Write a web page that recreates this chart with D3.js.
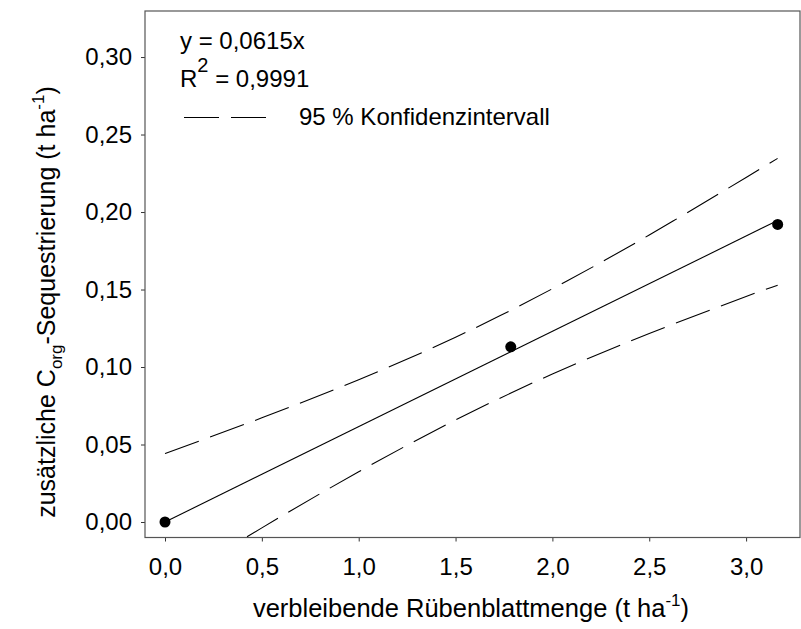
<!DOCTYPE html>
<html>
<head>
<meta charset="utf-8">
<script src="https://cdn.jsdelivr.net/npm/d3@7"></script>
<style>
  html, body { margin: 0; padding: 0; background: #fff; }
  svg { display: block; font-family: "Liberation Sans", Arial, sans-serif; }
</style>
</head>
<body>
<svg id="chart" width="801" height="629"></svg>
<script>
// Measured points: remaining beet leaf amount vs. additional C_org sequestration
const leafAmount = [0.0, 1.785, 3.163];
const sequestration = [0.0, 0.113, 0.192];

// Fitted line y = 0.0615x
const slope = 0.0615;
const fitX = [0.0, 3.163];

// 95 % confidence band, sampled along x
const bandX = [0.0, 0.5, 1.0, 1.5, 2.0, 2.5, 3.0, 3.163];
const bandUpper = [0.0442, 0.0672, 0.0918, 0.1192, 0.1505, 0.1852, 0.2223, 0.2346];
const bandLower = [-0.0418, -0.0038, 0.0324, 0.0658, 0.0955, 0.1216, 0.1455, 0.1528];

const xTicks = [0.0, 0.5, 1.0, 1.5, 2.0, 2.5, 3.0];
const yTicks = [0.00, 0.05, 0.10, 0.15, 0.20, 0.25, 0.30];

const svg = d3.select("#chart");
const plot = { left: 145, top: 11, right: 800, bottom: 537.5 };

const x = d3.scaleLinear().domain([-0.1033, 3.2783]).range([plot.left, plot.right]);
const y = d3.scaleLinear().domain([-0.0100, 0.3297]).range([plot.bottom, plot.top]);

const comma = (digits) => (v) => d3.format("." + digits + "f")(v).replace(".", ",");

svg.append("defs").append("clipPath").attr("id", "plot-clip")
  .append("rect")
  .attr("x", plot.left).attr("y", plot.top)
  .attr("width", plot.right - plot.left).attr("height", plot.bottom - plot.top);

// Axes
const xAxis = svg.append("g")
  .attr("transform", `translate(0,${plot.bottom})`)
  .call(d3.axisBottom(x).tickValues(xTicks).tickFormat(comma(1)).tickSize(4).tickPadding(16));
const yAxis = svg.append("g")
  .attr("transform", `translate(${plot.left},0)`)
  .call(d3.axisLeft(y).tickValues(yTicks).tickFormat(comma(2)).tickSize(4).tickPadding(9));

[xAxis, yAxis].forEach(g => {
  g.select(".domain").remove();
  g.selectAll(".tick line").attr("stroke", "#333");
  g.selectAll(".tick text").attr("fill", "#000").style("font-size", "24px")
    .style("font-family", "'Liberation Sans', Arial, sans-serif");
});

// Frame around the plot area
svg.append("rect")
  .attr("x", plot.left).attr("y", plot.top)
  .attr("width", plot.right - plot.left).attr("height", plot.bottom - plot.top)
  .attr("fill", "none").attr("stroke", "#555").attr("stroke-width", 1.2);

const content = svg.append("g").attr("clip-path", "url(#plot-clip)");

// Confidence band lines
const bandLine = d3.line().curve(d3.curveNatural).x(d => x(d[0])).y(d => y(d[1]));
[bandUpper, bandLower].forEach(vals => {
  content.append("path")
    .datum(bandX.map((v, i) => [v, vals[i]]))
    .attr("d", bandLine)
    .attr("fill", "none").attr("stroke", "#000").attr("stroke-width", 1.1)
    .attr("stroke-dasharray", "36,12");
});

// Regression line
content.append("path")
  .datum(fitX.map(v => [v, slope * v]))
  .attr("d", d3.line().x(d => x(d[0])).y(d => y(d[1])))
  .attr("fill", "none").attr("stroke", "#000").attr("stroke-width", 1.1);

// Data points
content.selectAll("circle.pt")
  .data(leafAmount.map((v, i) => [v, sequestration[i]]))
  .join("circle")
  .attr("class", "pt")
  .attr("cx", d => x(d[0])).attr("cy", d => y(d[1]))
  .attr("r", 5.5).attr("fill", "#000");

// Legend
const legend = svg.append("g").style("font-size", "24px").attr("fill", "#000");
legend.append("text").attr("x", 180).attr("y", 49).text("y = 0,0615x");
const r2 = legend.append("text").attr("x", 180).attr("y", 87);
r2.append("tspan").text("R");
r2.append("tspan").attr("dy", -15).style("font-size", "20px").text("2");
r2.append("tspan").attr("dy", 15).text(" = 0,9991");
legend.append("line")
  .attr("x1", 184).attr("x2", 266).attr("y1", 117.5).attr("y2", 117.5)
  .attr("stroke", "#000").attr("stroke-width", 1.1).attr("stroke-dasharray", "35,12");
legend.append("text").attr("x", 299).attr("y", 125).text("95 % Konfidenzintervall");

// Axis titles
const xTitle = svg.append("text")
  .attr("x", 471).attr("y", 617).attr("text-anchor", "middle")
  .style("font-size", "25.5px").attr("fill", "#000");
xTitle.append("tspan").text("verbleibende Rübenblattmenge (t ha");
xTitle.append("tspan").attr("dy", -11).style("font-size", "17px").text("-1");
xTitle.append("tspan").attr("dy", 11).text(")");

const yTitle = svg.append("text")
  .attr("transform", "translate(55,302) rotate(-90)")
  .attr("text-anchor", "middle")
  .style("font-size", "25px").attr("fill", "#000");
yTitle.append("tspan").text("zusätzliche C");
yTitle.append("tspan").attr("dy", 7).style("font-size", "17px").text("org");
yTitle.append("tspan").attr("dy", -7).text("-Sequestrierung (t ha");
yTitle.append("tspan").attr("dy", -11).style("font-size", "17px").text("-1");
yTitle.append("tspan").attr("dy", 11).text(")");
</script>
</body>
</html>
